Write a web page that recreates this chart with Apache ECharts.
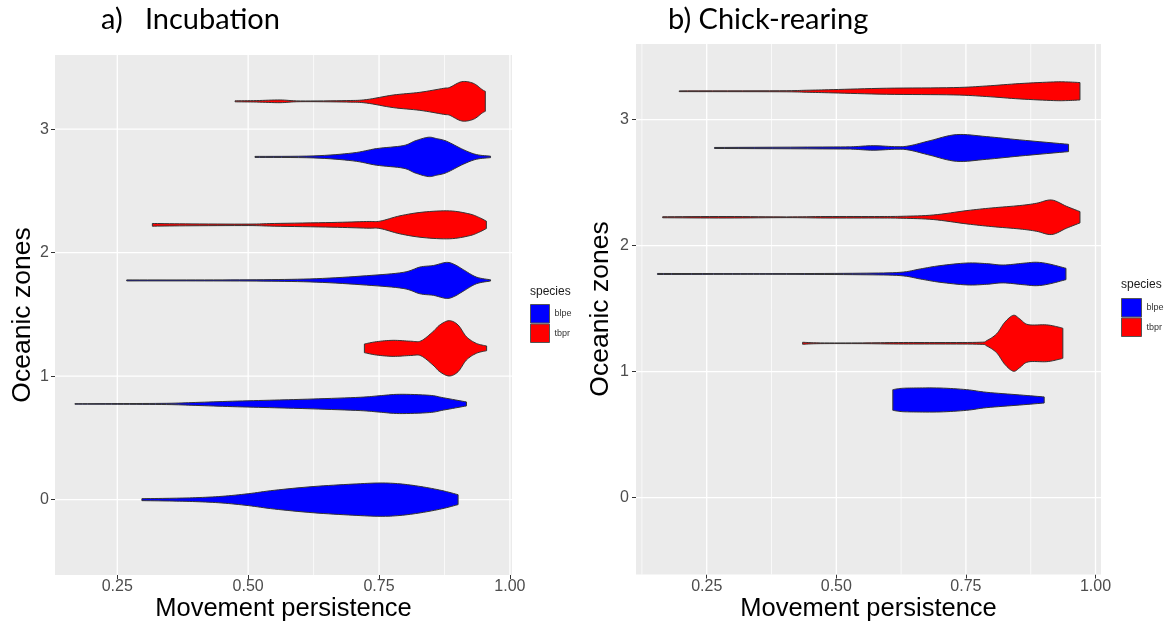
<!DOCTYPE html>
<html><head><meta charset="utf-8">
<script src="https://cdn.jsdelivr.net/npm/echarts@6/dist/echarts.min.js"></script>
<style>html,body{margin:0;padding:0;background:#fff}#c{width:1171px;height:627px}</style>
</head><body><div id="c"></div>
<script>
// ---------- data ----------
const zoneTicks = [0, 1, 2, 3];
const xMajorTicks = [0.25, 0.5, 0.75, 1.0];
const xMinorTicksA = [0.625, 0.875];
const xMinorTicksB = [0.125, 0.375, 0.625, 0.875];
const speciesNames = ['blpe', 'tbpr'];
const panelTitles = ['a)   Incubation', 'b) Chick-rearing'];
const xTitle = 'Movement persistence';
const yTitle = 'Oceanic zones';
const legendTitle = 'species';

// violin profiles: [movement persistence, half-width (zone units)]
// a) Incubation
const incZ0Blpe = [[0.297,0.008],[0.35,0.011],[0.40,0.016],[0.45,0.027],[0.50,0.048],[0.55,0.076],[0.624,0.106],[0.70,0.126],[0.752,0.135],[0.79,0.128],[0.83,0.106],[0.87,0.074],[0.901,0.040]];
const incZ1Blpe = [[0.169,0.002],[0.25,0.003],[0.344,0.005],[0.40,0.012],[0.47,0.022],[0.55,0.031],[0.624,0.040],[0.714,0.054],[0.75,0.066],[0.789,0.078],[0.846,0.070],[0.873,0.050],[0.917,0.016]];
const incZ1Tbpr = [[0.722,0.035],[0.745,0.054],[0.777,0.065],[0.81,0.058],[0.83,0.060],[0.853,0.135],[0.866,0.189],[0.884,0.224],[0.901,0.189],[0.917,0.094],[0.936,0.040],[0.9555,0.019]];
const incZ2Blpe = [[0.268,0.004],[0.40,0.004],[0.53,0.006],[0.63,0.014],[0.726,0.038],[0.796,0.065],[0.828,0.108],[0.854,0.121],[0.879,0.146],[0.895,0.127],[0.911,0.087],[0.936,0.027],[0.963,0.005]];
const incZ2Tbpr = [[0.317,0.011],[0.38,0.008],[0.50,0.006],[0.55,0.011],[0.66,0.019],[0.726,0.027],[0.752,0.030],[0.79,0.073],[0.834,0.103],[0.885,0.113],[0.922,0.089],[0.94,0.062],[0.955,0.030]];
const incZ3Blpe = [[0.513,0.004],[0.624,0.008],[0.70,0.032],[0.745,0.067],[0.796,0.091],[0.819,0.130],[0.844,0.159],[0.86,0.148],[0.879,0.127],[0.911,0.059],[0.936,0.019],[0.963,0.006]];
const incZ3Tbpr = [[0.475,0.004],[0.516,0.006],[0.561,0.011],[0.60,0.003],[0.688,0.006],[0.726,0.014],[0.777,0.051],[0.828,0.073],[0.873,0.105],[0.885,0.113],[0.908,0.159],[0.93,0.146],[0.947,0.095],[0.953,0.081]];
// b) Chick-rearing
const chkZ1Blpe = [[0.609,0.082],[0.625,0.092],[0.649,0.095],[0.70,0.095],[0.7515,0.082],[0.79,0.061],[0.854,0.040],[0.901,0.024]];
const chkZ1Tbpr = [[0.435,0.008],[0.469,0.003],[0.55,0.003],[0.62,0.006],[0.70,0.006],[0.777,0.008],[0.79,0.021],[0.809,0.074],[0.825,0.167],[0.8415,0.222],[0.854,0.193],[0.870,0.148],[0.906,0.146],[0.93,0.127],[0.937,0.119]];
const chkZ2Blpe = [[0.155,0.004],[0.30,0.003],[0.404,0.003],[0.546,0.006],[0.623,0.013],[0.662,0.040],[0.70,0.066],[0.752,0.087],[0.79,0.082],[0.822,0.071],[0.86,0.085],[0.886,0.093],[0.91,0.080],[0.943,0.045]];
const chkZ2Tbpr = [[0.165,0.004],[0.289,0.006],[0.404,0.003],[0.48,0.006],[0.584,0.006],[0.629,0.008],[0.687,0.018],[0.752,0.053],[0.80,0.074],[0.854,0.093],[0.886,0.111],[0.9155,0.137],[0.944,0.087],[0.97,0.045]];
const chkZ3Blpe = [[0.265,0.004],[0.494,0.008],[0.533,0.010],[0.571,0.018],[0.617,0.010],[0.642,0.018],[0.681,0.058],[0.732,0.106],[0.79,0.090],[0.854,0.064],[0.948,0.029]];
const chkZ3Tbpr = [[0.197,0.003],[0.39,0.004],[0.443,0.008],[0.494,0.013],[0.597,0.024],[0.726,0.029],[0.79,0.042],[0.854,0.061],[0.919,0.074],[0.945,0.074],[0.97,0.069]];

// ---------- chart ----------
const COLORS = { blpe: '#0000ff', tbpr: '#ff0000' };
const DODGE = 0.225;
const AX_FONT = '"Liberation Sans", Arial, sans-serif';
const TITLE_FONT = 'Lato, "Open Sans", sans-serif';

// [panelIndex, zone, species, profile, alone-in-zone]
const violins = [
  [0, 0, 'blpe', incZ0Blpe, true],
  [0, 1, 'blpe', incZ1Blpe, false], [0, 1, 'tbpr', incZ1Tbpr, false],
  [0, 2, 'blpe', incZ2Blpe, false], [0, 2, 'tbpr', incZ2Tbpr, false],
  [0, 3, 'blpe', incZ3Blpe, false], [0, 3, 'tbpr', incZ3Tbpr, false],
  [1, 1, 'blpe', chkZ1Blpe, false], [1, 1, 'tbpr', chkZ1Tbpr, false],
  [1, 2, 'blpe', chkZ2Blpe, false], [1, 2, 'tbpr', chkZ2Tbpr, false],
  [1, 3, 'blpe', chkZ3Blpe, false], [1, 3, 'tbpr', chkZ3Tbpr, false]
];

// smooth outline (Catmull-Rom) of a density profile, kept non-negative
function smoothProfile(prof, n) {
  const out = [];
  for (let i = 0; i < prof.length - 1; i++) {
    const p0 = prof[Math.max(i - 1, 0)], p1 = prof[i], p2 = prof[i + 1], p3 = prof[Math.min(i + 2, prof.length - 1)];
    for (let k = 0; k < n; k++) {
      const t = k / n, t2 = t * t, t3 = t2 * t;
      const f = (a, b, c, d) => 0.5 * ((2 * b) + (-a + c) * t + (2 * a - 5 * b + 4 * c - d) * t2 + (-a + 3 * b - 3 * c + d) * t3);
      out.push([f(p0[0], p1[0], p2[0], p3[0]), Math.max(0.0006, f(p0[1], p1[1], p2[1], p3[1]))]);
    }
  }
  out.push(prof[prof.length - 1]);
  return out;
}

function violinSeries(v) {
  const [p, zone, sp, prof, alone] = v;
  const c = zone + (alone ? 0 : (sp === 'blpe' ? -DODGE : DODGE));
  return {
    type: 'custom', name: sp, xAxisIndex: p, yAxisIndex: p, z: 3,
    itemStyle: { color: COLORS[sp] },
    data: prof.map(d => [d[0], c, d[1]]),
    encode: { x: 0, y: 1 },
    silent: true,
    renderItem: function (params, api) {
      if (params.dataIndex !== 0) return null;
      const sm = smoothProfile(prof, 8);
      const top = [], bot = [];
      sm.forEach(d => {
        top.push(api.coord([d[0], c + d[1]]));
        bot.push(api.coord([d[0], c - d[1]]));
      });
      return {
        type: 'polygon',
        shape: { points: top.concat(bot.reverse()) },
        style: { fill: api.visual('color'), stroke: '#333333', lineWidth: 1, lineJoin: 'round' }
      };
    }
  };
}

function vGridSeries(p, ticks, width) {
  return {
    type: 'custom', xAxisIndex: p, yAxisIndex: p, z: 1, silent: true,
    data: ticks.map(v => [v, 1]),
    encode: { x: 0, y: 1 },
    renderItem: function (params, api) {
      const x = api.coord([api.value(0), 1])[0];
      const cs = params.coordSys;
      return { type: 'line', silent: true, shape: { x1: x, y1: cs.y, x2: x, y2: cs.y + cs.height },
        style: { stroke: '#ffffff', lineWidth: width } };
    }
  };
}
function hGridSeries(p) {
  return {
    type: 'custom', xAxisIndex: p, yAxisIndex: p, z: 1, silent: true,
    data: zoneTicks.map(v => [0.5, v]),
    encode: { x: 0, y: 1 },
    renderItem: function (params, api) {
      const y = api.coord([api.value(0), api.value(1)])[1];
      const cs = params.coordSys;
      return { type: 'line', silent: true, shape: { x1: cs.x, y1: y, x2: cs.x + cs.width, y2: y },
        style: { stroke: '#ffffff', lineWidth: 1.3 } };
    }
  };
}

function xAxisCfg(p, min, max) {
  return {
    gridIndex: p, type: 'value', min: min, max: max, position: 'bottom',
    axisLine: { show: false, onZero: false }, splitLine: { show: false }, axisPointer: { show: false },
    axisTick: { show: true, length: 4, customValues: xMajorTicks, lineStyle: { color: '#333', width: 1 } },
    axisLabel: { customValues: xMajorTicks, formatter: v => v.toFixed(2), color: '#4d4d4d', fontSize: 16, margin: 4, fontFamily: AX_FONT }
  };
}
function yAxisCfg(p, margin) {
  return {
    gridIndex: p, type: 'value', min: -0.61, max: 3.6, position: 'left',
    axisLine: { show: false, onZero: false }, splitLine: { show: false }, axisPointer: { show: false },
    axisTick: { show: true, length: 4, customValues: zoneTicks, lineStyle: { color: '#333', width: 1 } },
    axisLabel: { customValues: zoneTicks, formatter: v => String(v), color: '#4d4d4d', fontSize: 16, margin: margin, fontFamily: AX_FONT }
  };
}

const grids = [
  { left: 55, top: 55, width: 457, height: 520 },
  { left: 636, top: 44, width: 465, height: 530.5 }
];

function legendCfg(left, top, w) {
  return {
    orient: 'vertical', left: left, top: top, padding: 0, itemGap: 0,
    itemWidth: w, itemHeight: 18.5, icon: 'rect', selectedMode: false,
    data: speciesNames,
    itemStyle: { borderColor: '#555', borderWidth: 1 },
    textStyle: { fontSize: 9, color: '#333', fontFamily: AX_FONT }
  };
}

function txt(x, y, s, size, opts) {
  return Object.assign({ type: 'text', x: x, y: y, silent: true,
    style: Object.assign({ text: s, fontSize: size, fontFamily: AX_FONT, fill: '#000', align: 'center', verticalAlign: 'middle' }, opts || {}) });
}

const option = {
  animation: false,
  backgroundColor: '#ffffff',
  tooltip: { show: false },
  grid: grids.map(g => Object.assign({ show: true, backgroundColor: '#ebebeb', borderWidth: 0, outerBoundsMode: 'none' }, g)),
  xAxis: [xAxisCfg(0, 0.131, 1.004), xAxisCfg(1, 0.1136, 1.0106)],
  yAxis: [yAxisCfg(0, 6), yAxisCfg(1, 7)],
  legend: [legendCfg(530, 304, 19), legendCfg(1121, 298, 20)],
  series: [vGridSeries(0, xMajorTicks, 1.3), vGridSeries(0, xMinorTicksA, 0.7), hGridSeries(0),
           vGridSeries(1, xMajorTicks, 1.3), vGridSeries(1, xMinorTicksB, 0.7), hGridSeries(1)]
          .concat(violins.map(violinSeries)),
  graphic: [
    txt(101, 20, panelTitles[0], 29, { align: 'left', fontFamily: TITLE_FONT }),
    txt(668, 20, panelTitles[1], 29, { align: 'left', fontFamily: TITLE_FONT }),
    txt(283.5, 609, xTitle, 25.5),
    txt(868.5, 609, xTitle, 25.5),
    Object.assign(txt(23, 315, yTitle, 26.5), { rotation: Math.PI / 2 }),
    Object.assign(txt(601, 309, yTitle, 26.5), { rotation: Math.PI / 2 }),
    txt(530, 292, legendTitle, 12, { align: 'left', fill: '#1a1a1a' }),
    txt(1121, 285, legendTitle, 12, { align: 'left', fill: '#1a1a1a' })
  ]
};

const chart = echarts.init(document.getElementById('c'), null, { renderer: 'canvas' });
chart.setOption(option);
</script>
</body></html>
